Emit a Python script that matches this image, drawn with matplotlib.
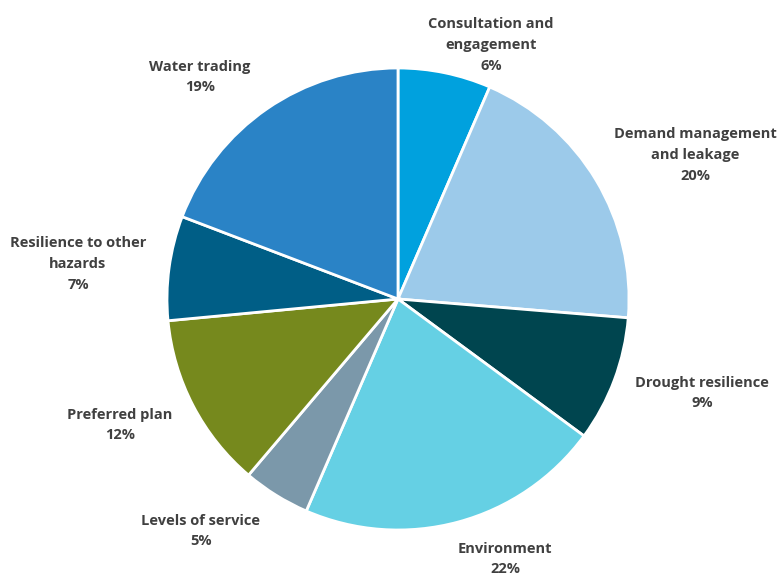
import matplotlib
matplotlib.use("Agg")
import matplotlib.pyplot as plt

W, H = 779, 575
labels = ["Consultation and\nengagement", "Demand management\nand leakage", "Drought resilience",
          "Environment", "Levels of service", "Preferred plan",
          "Resilience to other\nhazards", "Water trading"]
pct_text = ["6%", "20%", "9%", "22%", "5%", "12%", "7%", "19%"]
shares = [6.5, 19.8, 8.8, 21.4, 4.7, 12.3, 7.3, 19.2]
colors = ["#00A1DE", "#9CCAEA", "#00454F", "#65D0E4", "#7B98AA", "#76891D", "#005E86", "#2A83C6"]

# label block centres in pixel coords (x, y from top)
label_pos = [(491, 45), (695, 155), (702, 393), (505, 559),
             (201, 531), (120, 425), (78, 264), (200, 77)]

plt.rcParams["font.family"] = ["Open Sans", "DejaVu Sans"]
fig = plt.figure(figsize=(W / 100, H / 100), dpi=100)
ax = fig.add_axes([0, 0, 1, 1])
ax.pie(shares, colors=colors, startangle=90, counterclock=False,
       center=(398, H - 299), radius=231,
       wedgeprops={"edgecolor": "white", "linewidth": 2})
ax.set_xlim(0, W); ax.set_ylim(0, H)
ax.set_aspect("equal"); ax.axis("off")

for lab, p, (x, y) in zip(labels, pct_text, label_pos):
    ax.text(x, H - y, f"{lab}\n{p}", ha="center", va="center", fontsize=10.5,
            fontweight="bold", color="#404040", linespacing=1.6)

fig.savefig("out.png", dpi=100)
